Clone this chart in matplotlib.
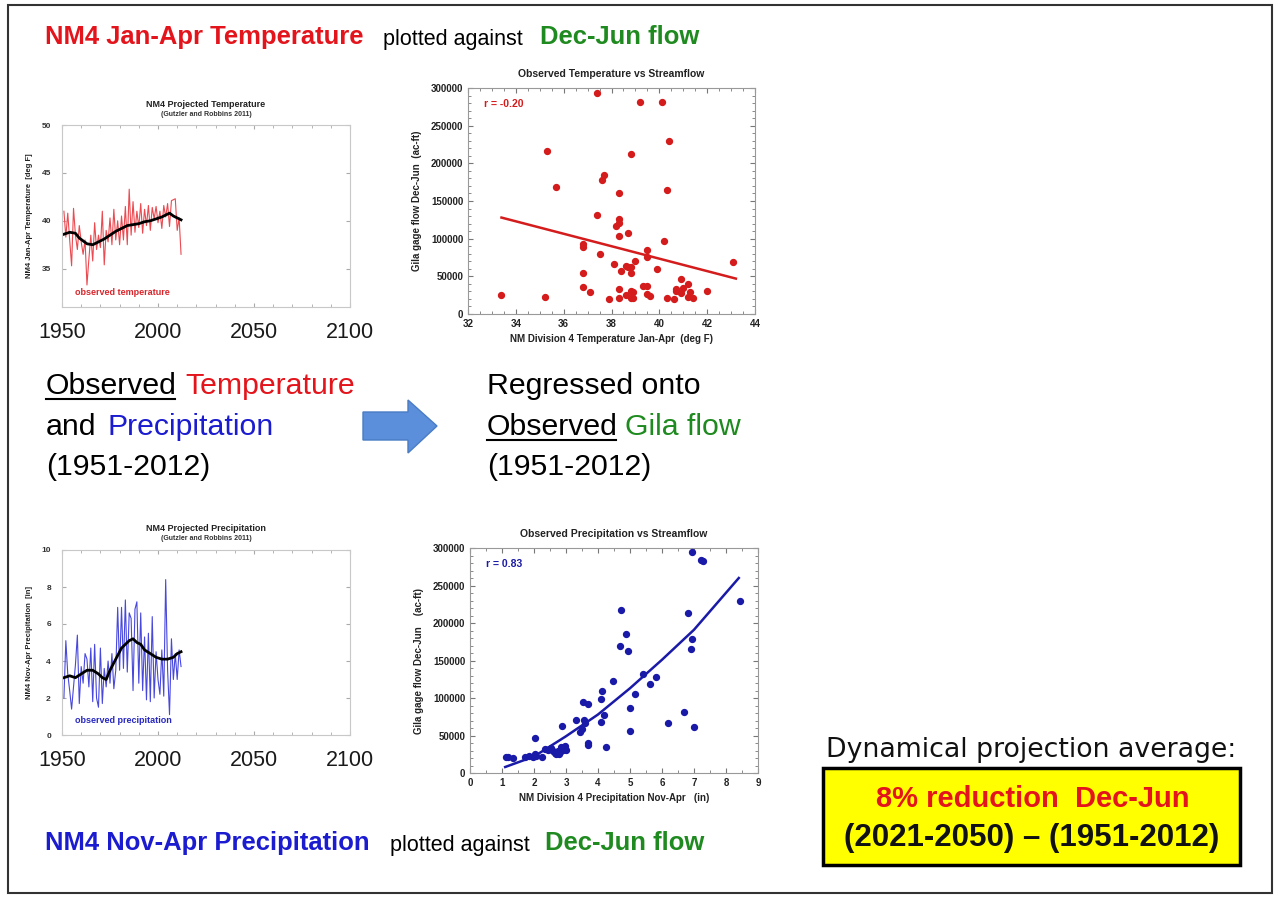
import matplotlib
matplotlib.use('Agg')
import matplotlib.pyplot as plt
from matplotlib import font_manager
from matplotlib.lines import Line2D
from matplotlib.patches import Rectangle, Polygon
import numpy as np

plt.rcParams['font.family'] = ['Liberation Sans', 'DejaVu Sans']

# ---- observed series 1951-2012 ----
years = list(range(1951, 2013))
temp_obs = [41.0, 38.3, 40.8, 38.0, 35.3, 41.3, 38.5, 37.0, 39.5, 37.8,
            36.5, 38.0, 33.3, 36.0, 38.5, 35.8, 39.8, 37.0, 38.5, 37.2,
            41.0, 35.4, 39.0, 37.8, 40.3, 37.5, 41.2, 38.0, 40.0, 37.5,
            40.5, 38.0, 41.5, 37.5, 43.3, 38.5, 42.0, 38.8, 41.0, 39.3,
            41.8, 38.7, 41.2, 39.5, 41.6, 39.0, 41.4, 40.2, 41.5, 39.8,
            41.0, 39.2, 41.6, 40.4, 41.8, 39.4, 42.1, 42.2, 42.3, 39.0,
            40.3, 36.5]
temp_smooth_yr = [1951, 1954, 1957, 1959, 1961, 1963, 1966, 1969, 1972, 1975, 1978, 1981,
                  1984, 1987, 1990, 1993, 1996, 1999, 2002, 2004, 2006, 2008, 2010, 2012]
temp_smooth = [38.6, 38.8, 38.7, 38.2, 37.9, 37.6, 37.5, 37.8, 38.1, 38.5, 38.9, 39.2,
               39.5, 39.6, 39.7, 39.9, 40.0, 40.2, 40.4, 40.6, 40.8, 40.5, 40.3, 40.1]

prcp_obs = [2.0, 5.1, 3.3, 2.4, 1.4, 2.6, 3.8, 5.4, 1.7, 3.7,
            2.8, 4.4, 4.1, 2.6, 4.7, 1.8, 4.9, 2.0, 1.5, 4.7,
            1.7, 3.6, 2.6, 4.0, 2.8, 4.4, 2.5, 3.5, 6.9, 3.5,
            6.9, 3.6, 7.3, 3.4, 6.6, 6.3, 2.4, 6.8, 7.2, 2.8,
            6.6, 2.4, 5.3, 1.9, 5.5, 1.8, 6.4, 2.0, 4.5, 3.0,
            2.2, 4.6, 2.1, 8.4, 3.5, 1.1, 5.2, 3.0, 4.4, 3.0,
            4.6, 3.7]
prcp_smooth_yr = [1951, 1954, 1957, 1960, 1963, 1966, 1969, 1971, 1973, 1975, 1977, 1979, 1981,
                  1983, 1985, 1987, 1989, 1991, 1993, 1996, 1999, 2002, 2005, 2008, 2010, 2012]
prcp_smooth = [3.1, 3.2, 3.1, 3.3, 3.5, 3.5, 3.3, 3.1, 3.0, 3.5, 3.9, 4.3, 4.7,
               4.9, 5.1, 5.2, 5.0, 4.9, 4.6, 4.4, 4.2, 4.1, 4.1, 4.2, 4.4, 4.5]

# ---- scatter: temperature vs flow ----
sc_temp = [37.4, 39.2, 40.1, 40.4, 35.3, 38.8, 37.7, 37.6, 35.7, 40.3, 38.3,
           37.4, 38.3, 38.3, 38.2, 38.3, 38.7, 40.2, 36.8, 36.8, 39.5, 37.5,
           39.5, 39.0, 38.1, 38.6, 38.7, 38.8, 39.9, 38.4, 38.8, 36.8, 43.1,
           40.9, 41.2, 41.0, 40.7, 40.7, 41.3, 42.0, 36.8, 37.1, 38.3, 38.8,
           38.9, 38.6, 39.5, 39.3, 39.5, 39.6, 40.9, 41.2, 41.4, 40.3, 40.6,
           38.8, 38.9, 38.3, 37.9, 35.2, 33.4]
sc_flow_t = [293000, 281000, 281000, 229000, 217000, 213000, 184000, 178000, 168000, 164000, 161000,
             131000, 126000, 121000, 117000, 103000, 108000, 97000, 93500, 89500, 85000, 80000,
             76000, 70000, 66000, 64000, 63000, 62000, 60000, 57600, 54000, 54000, 69000,
             46000, 40300, 34600, 33200, 30100, 29700, 31000, 35400, 28800, 32800, 30100,
             28800, 25700, 26600, 37200, 37200, 23900, 27500, 23000, 21700, 21300, 20400,
             21300, 21300, 21700, 20400, 22200, 25300]
fit_t_x = [33.4, 43.2]
fit_t_y = [128000, 47000]

# ---- scatter: precipitation vs flow ----
sc_prcp = [6.95, 7.21, 7.28, 8.45, 4.73, 6.82, 6.93, 6.92, 4.68, 4.87, 4.94,
           5.41, 5.81, 5.62, 4.47, 4.11, 4.08, 3.52, 3.69, 5.16, 4.99, 4.20,
           6.69, 4.08, 3.30, 3.57, 3.59, 3.49, 3.43, 6.20, 7.00, 4.99, 2.86,
           2.03, 3.69, 3.69, 4.25, 1.13, 1.18, 1.35, 1.72, 1.85, 1.97, 2.05,
           2.02, 2.25, 2.35, 2.45, 2.52, 2.58, 2.65, 2.70, 2.75, 2.78, 2.80,
           2.85, 2.88, 2.92, 2.96, 2.98, 3.00]
sc_flow_p = [294700, 283600, 282700, 230000, 217800, 214000, 178700, 165800, 168900, 185300, 163000,
             132400, 128000, 119000, 122200, 108900, 98700, 94700, 91600, 104900, 86700, 77800,
             80900, 68000, 70200, 71100, 66700, 59100, 55100, 66700, 61300, 55600, 62200,
             46700, 40000, 37800, 34700, 21000, 22000, 20500, 21000, 23000, 21500, 23000,
             25000, 22000, 32000, 30500, 33000, 29600, 27000, 25500, 29000, 25600, 28000,
             35000, 33000, 31000, 36000, 33000, 30500]
fit_p_x = [1.1, 2.0, 3.0, 4.0, 5.0, 6.0, 7.0, 8.4]
fit_p_y = [8000, 22000, 49000, 78000, 113000, 151000, 191000, 260000]

RED = '#e3141b'
BLUE = '#1b1bd0'
GREEN = '#1f8a1f'

W, H = 1280, 897
def fx(px):
    return px / W
def fy(py):
    return 1 - py / H

fig = plt.figure(figsize=(12.8, 8.97), dpi=100)
fig.patch.set_facecolor('white')

names = {f.name for f in font_manager.fontManager.ttflist}
if 'Liberation Sans Narrow' in names:
    narrow, nscale = 'Liberation Sans Narrow', 1.0
else:
    narrow, nscale = 'Liberation Sans', 0.82


def ts_axes(rect, obs, sm_x, sm_y, ylim, yticks, color, title, ylabel, note, notecolor):
    ax = fig.add_axes(rect)
    ax.plot(years, obs, color=color, lw=0.8)
    ax.plot(sm_x, sm_y, color='black', lw=2.0)
    ax.set_xlim(1950, 2100)
    ax.set_ylim(*ylim)
    ax.set_yticks(yticks)
    ax.set_xticks([1950, 2000, 2050, 2100])
    ax.set_xticks(range(1950, 2101, 10), minor=True)
    ax.tick_params(axis='x', which='major', direction='in', top=True, length=3,
                   color='#aaaaaa', labelsize=15.5, pad=11, labelcolor='#1a1a1a')
    ax.tick_params(axis='x', which='minor', direction='in', top=True, length=2, color='#aaaaaa')
    ax.tick_params(axis='y', direction='in', right=True, length=3, color='#aaaaaa',
                   labelsize=6, labelcolor='#333333', pad=8)
    for lab in ax.get_yticklabels():
        lab.set_fontweight('bold')
    for sp in ax.spines.values():
        sp.set_color('#c8c8c8')
        sp.set_linewidth(0.8)
    ax.set_ylabel(ylabel, fontsize=5.5, fontweight='bold', color='#222222')
    ax.yaxis.set_label_coords(-0.1, 0.5)
    ax.text(0.5, 1.115, title, transform=ax.transAxes, ha='center', va='center',
            fontsize=6.5, fontweight='bold', color='#222222')
    ax.text(0.5, 1.06, '(Gutzler and Robbins 2011)', transform=ax.transAxes, ha='center',
            va='center', fontsize=5, fontweight='bold', color='#333333')
    ax.text(0.045, 0.08, note, transform=ax.transAxes, ha='left', va='center',
            fontsize=6.5, fontweight='bold', color=notecolor)
    return ax


ts_axes([fx(62), fy(307), fx(350) - fx(62), fy(125) - fy(307)], temp_obs,
        temp_smooth_yr, temp_smooth, (31, 50), [35, 40, 45, 50], '#ea4a50',
        'NM4 Projected Temperature', 'NM4 Jan-Apr Temperature  [deg F]',
        'observed temperature', '#d8262c')
ts_axes([fx(62), fy(735), fx(350) - fx(62), fy(550) - fy(735)], prcp_obs,
        prcp_smooth_yr, prcp_smooth, (0, 10), [0, 2, 4, 6, 8, 10], '#4848dc',
        'NM4 Projected Precipitation', 'NM4 Nov-Apr Precipitation  [in]',
        'observed precipitation', '#2828c0')


def sc_axes(rect, xs, ys, fx_, fy_, color, xlim, xmaj, xmin, title, xlabel, ylabel, rtxt):
    ax = fig.add_axes(rect)
    ax.plot(fx_, fy_, color=color, lw=1.8, zorder=2)
    ax.scatter(xs, ys, s=18, color=color, edgecolors=color, zorder=3)
    ax.set_xlim(*xlim)
    ax.set_ylim(0, 300000)
    ax.set_xticks(xmaj)
    ax.set_xticks(xmin, minor=True)
    ax.set_yticks(range(0, 300001, 50000))
    ax.set_yticks(range(0, 300001, 10000), minor=True)
    ax.tick_params(which='major', direction='in', top=True, right=True, length=3.5,
                   color='#777777', labelsize=7, labelcolor='#222222')
    ax.tick_params(which='minor', direction='in', top=True, right=True, length=2, color='#777777')
    for lab in ax.get_xticklabels() + ax.get_yticklabels():
        lab.set_fontweight('bold')
    for sp in ax.spines.values():
        sp.set_color('#999999')
        sp.set_linewidth(0.8)
    ax.set_title(title, fontsize=7.5, fontweight='bold', color='#222222', pad=8)
    ax.set_xlabel(xlabel, fontsize=7, fontweight='bold', color='#222222', labelpad=4)
    ax.set_ylabel(ylabel, fontsize=7, fontweight='bold', color='#222222', labelpad=6)
    ax.text(0.055, 0.93, rtxt, transform=ax.transAxes, ha='left', va='center',
            fontsize=7.5, fontweight='bold', color=color)
    return ax


sc_axes([fx(468), fy(314), fx(755) - fx(468), fy(88) - fy(314)], sc_temp, sc_flow_t,
        fit_t_x, fit_t_y, '#d41c1c', (32, 44), range(32, 45, 2), np.arange(32, 44.01, 0.5),
        'Observed Temperature vs Streamflow', 'NM Division 4 Temperature Jan-Apr  (deg F)',
        'Gila gage flow Dec-Jun  (ac-ft)', 'r = -0.20')
sc_axes([fx(470), fy(773), fx(758) - fx(470), fy(548) - fy(773)], sc_prcp, sc_flow_p,
        fit_p_x, fit_p_y, '#1a1aa8', (0, 9), range(0, 10), np.arange(0, 9.01, 0.5),
        'Observed Precipitation vs Streamflow', 'NM Division 4 Precipitation Nov-Apr   (in)',
        'Gila gage flow Dec-Jun    (ac-ft)', 'r = 0.83')

# ---- slide headers ----
hs = 22.5 * nscale
ps = 15.5 if nscale < 1 else 18.5
fig.text(fx(45), fy(37), 'NM4 Jan-Apr Temperature', ha='left', va='center',
         fontsize=hs, fontweight='bold', color=RED, family=narrow)
fig.text(fx(383), fy(39), 'plotted against', ha='left', va='center',
         fontsize=ps, color='black', family=narrow)
fig.text(fx(540), fy(37), 'Dec-Jun flow', ha='left', va='center',
         fontsize=hs, fontweight='bold', color=GREEN, family=narrow)

fig.text(fx(45), fy(843), 'NM4 Nov-Apr Precipitation', ha='left', va='center',
         fontsize=hs, fontweight='bold', color=BLUE, family=narrow)
fig.text(fx(390), fy(845), 'plotted against', ha='left', va='center',
         fontsize=ps, color='black', family=narrow)
fig.text(fx(545), fy(843), 'Dec-Jun flow', ha='left', va='center',
         fontsize=hs, fontweight='bold', color=GREEN, family=narrow)

# ---- middle text ----
ms = 21.8
fig.text(fx(46), fy(386), 'Observed', ha='left', va='center', fontsize=ms, color='black')
fig.text(fx(185), fy(386), 'Temperature', ha='left', va='center', fontsize=ms, color=RED)
fig.add_artist(Line2D([fx(46), fx(175)], [fy(399), fy(399)], color='black', lw=1.5))
fig.text(fx(46), fy(427), 'and', ha='left', va='center', fontsize=ms, color='black')
fig.text(fx(107), fy(427), 'Precipitation', ha='left', va='center', fontsize=ms, color=BLUE)
fig.text(fx(46), fy(467), '(1951-2012)', ha='left', va='center', fontsize=ms, color='black')

fig.text(fx(487), fy(386), 'Regressed onto', ha='left', va='center', fontsize=ms, color='black')
fig.text(fx(487), fy(427), 'Observed', ha='left', va='center', fontsize=ms, color='black')
fig.add_artist(Line2D([fx(487), fx(616)], [fy(440), fy(440)], color='black', lw=1.5))
fig.text(fx(625), fy(427), 'Gila flow', ha='left', va='center', fontsize=ms, color=GREEN)
fig.text(fx(487), fy(467), '(1951-2012)', ha='left', va='center', fontsize=ms, color='black')

# blue arrow
arrow_px = [(363, 412), (408, 412), (408, 400), (437, 426), (408, 453), (408, 440), (363, 440)]
fig.add_artist(Polygon([(fx(a), fy(b)) for a, b in arrow_px], closed=True,
                       transform=fig.transFigure, facecolor='#5b8fdc', edgecolor='#4a7cc4', lw=1))

# ---- projection box ----
fig.text(fx(1031), fy(750), 'Dynamical projection average:', ha='center', va='center',
         fontsize=19.3, color='#111111', family='DejaVu Sans')
fig.add_artist(Rectangle((fx(823), fy(865)), fx(1240) - fx(823), fy(768) - fy(865),
                         transform=fig.transFigure, facecolor='#ffff00', edgecolor='black', lw=2.5))
fig.text(fx(1033), fy(799), '8% reduction  Dec-Jun', ha='center', va='center',
         fontsize=21, fontweight='bold', color=RED)
fig.text(fx(1032), fy(838), '(2021-2050) \u2013 (1951-2012)', ha='center', va='center',
         fontsize=22.5, fontweight='bold', color='#111111')

# slide frame
fig.add_artist(Rectangle((fx(8), fy(893)), fx(1272) - fx(8), fy(5) - fy(893),
                         transform=fig.transFigure, facecolor='none', edgecolor='#333333', lw=1.5))

fig.savefig('out.png', dpi=100)
